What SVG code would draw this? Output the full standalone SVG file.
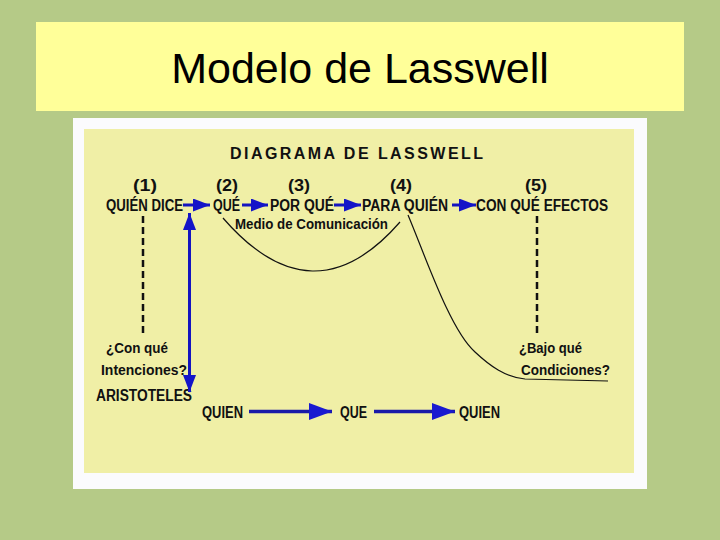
<svg xmlns="http://www.w3.org/2000/svg" width="720" height="540" viewBox="0 0 720 540">
<style>
.t{font-family:"Liberation Sans Narrow","Liberation Sans",Arial,sans-serif;font-weight:bold;fill:#111;}
.row{font-size:16px;}
.num{font-size:16px;}
.small{font-size:15px;}
.ln{fill:none;stroke:#111;stroke-width:1.2;}
.dash{fill:none;stroke:#111;stroke-width:2.5;stroke-dasharray:7 4;}
.ba{stroke:#1414c0;stroke-width:3;fill:none;}
.bb{stroke:#1a1aa8;stroke-width:3.5;fill:none;}
</style>
<defs>
<marker id="ah" markerUnits="userSpaceOnUse" viewBox="0 0 17 13" markerWidth="17" markerHeight="13" refX="17" refY="6.5" orient="auto-start-reverse">
<path d="M0,0 L17,6.5 L0,13 Z" fill="#1414c8"/>
</marker>
<marker id="ahb" markerUnits="userSpaceOnUse" viewBox="0 0 23 17" markerWidth="23" markerHeight="17" refX="23" refY="8.5" orient="auto">
<path d="M0,0 L23,8.5 L0,17 Z" fill="#1a1ad0"/>
</marker>
</defs>
<rect x="0" y="0" width="720" height="540" fill="#b5ca87"/>
<g id="title">
<rect x="36" y="22" width="648" height="89" fill="#ffff99"/>
<text x="360" y="83" text-anchor="middle" font-family="'Liberation Sans',Arial,sans-serif" font-size="43" fill="#000">Modelo de Lasswell</text>
</g>
<g id="frame">
<rect x="73" y="118" width="574" height="371" fill="#fbfbfd"/>
<rect x="84" y="129" width="550" height="344" fill="#f0efa6"/>
</g>
<g id="heading"><text class="t" x="230" y="159" font-size="16" textLength="258" lengthAdjust="spacing" letter-spacing="5">DIAGRAMA DE LASSWELL</text></g>
<g id="n1"><text class="t num" x="133" y="191" textLength="24" lengthAdjust="spacingAndGlyphs">(1)</text>
<text class="t row" x="106" y="211" textLength="77" lengthAdjust="spacingAndGlyphs">QUIÉN DICE</text></g>
<g id="n2"><text class="t num" x="216" y="191" textLength="22" lengthAdjust="spacingAndGlyphs">(2)</text>
<text class="t row" x="213" y="211" textLength="27" lengthAdjust="spacingAndGlyphs">QUÉ</text></g>
<g id="n3"><text class="t num" x="288" y="191" textLength="22" lengthAdjust="spacingAndGlyphs">(3)</text>
<text class="t row" x="270" y="211" textLength="64" lengthAdjust="spacingAndGlyphs">POR QUÉ</text></g>
<g id="n4"><text class="t num" x="390" y="191" textLength="22" lengthAdjust="spacingAndGlyphs">(4)</text>
<text class="t row" x="362" y="211" textLength="86" lengthAdjust="spacingAndGlyphs">PARA QUIÉN</text></g>
<g id="n5"><text class="t num" x="525" y="191" textLength="22" lengthAdjust="spacingAndGlyphs">(5)</text>
<text class="t row" x="476" y="211" textLength="132" lengthAdjust="spacingAndGlyphs">CON QUÉ EFECTOS</text></g>
<g id="medio"><text class="t" x="235" y="229" font-size="14" textLength="153" lengthAdjust="spacingAndGlyphs">Medio de Comunicación</text></g>
<g id="intenciones"><text class="t small" x="106" y="353" textLength="62" lengthAdjust="spacingAndGlyphs">¿Con qué</text>
<text class="t small" x="101" y="375" textLength="86" lengthAdjust="spacingAndGlyphs">Intenciones?</text></g>
<g id="aristoteles"><text class="t row" x="96" y="401" textLength="96" lengthAdjust="spacingAndGlyphs">ARISTOTELES</text></g>
<g id="condiciones"><text class="t small" x="519" y="353" textLength="63" lengthAdjust="spacingAndGlyphs">¿Bajo qué</text>
<text class="t small" x="521" y="375" textLength="89" lengthAdjust="spacingAndGlyphs">Condiciones?</text></g>
<g id="b1"><text class="t row" x="202" y="418" textLength="41" lengthAdjust="spacingAndGlyphs">QUIEN</text></g>
<g id="b2"><text class="t row" x="340" y="418" textLength="27" lengthAdjust="spacingAndGlyphs">QUE</text></g>
<g id="b3"><text class="t row" x="459" y="418" textLength="41" lengthAdjust="spacingAndGlyphs">QUIEN</text></g>
<g id="connectors">
<line class="ba" x1="183" y1="205" x2="210" y2="205" marker-end="url(#ah)"/>
<line class="ba" x1="242" y1="205" x2="268" y2="205" marker-end="url(#ah)"/>
<line class="ba" x1="334" y1="205" x2="361" y2="205" marker-end="url(#ah)"/>
<line class="ba" x1="452" y1="205" x2="476" y2="205" marker-end="url(#ah)"/>
<line class="ba" x1="189.5" y1="213" x2="189.5" y2="392" marker-start="url(#ah)" marker-end="url(#ah)"/>
<line class="bb" x1="249" y1="411.5" x2="332" y2="411.5" marker-end="url(#ahb)"/>
<line class="bb" x1="374" y1="411.5" x2="455" y2="411.5" marker-end="url(#ahb)"/>
<line class="dash" x1="143" y1="216" x2="143" y2="333"/>
<line class="dash" x1="537" y1="216" x2="537" y2="333"/>
<path class="ln" d="M223,218 Q313,322 400,222"/>
<path class="ln" d="M408,215 C425,255 450,330 475,352 C490,366 505,377 525,379 L608,381"/>
</g>
</svg>
